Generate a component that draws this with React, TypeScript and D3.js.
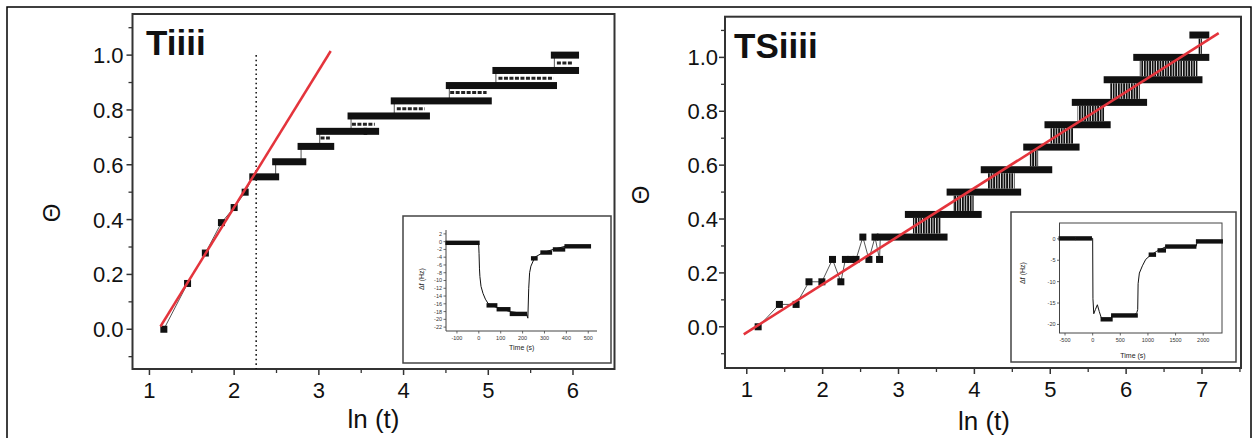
import React from "react";
import * as d3 from "d3";

const FONT = "'Liberation Sans', Arial, Helvetica, sans-serif";
const INK = "#111";
const FIT = "#e4343c";

// ---------- Panel "Tiiii" : coverage vs ln(t) ----------
const tiEarlyX = [1.17, 1.45, 1.66, 1.85, 2.0, 2.13];
const tiEarlyY = [0.0, 0.167, 0.278, 0.389, 0.444, 0.5];
const tiStepLevel = [0.556, 0.611, 0.667, 0.722, 0.722, 0.778, 0.833, 0.889, 0.944, 1.0];
const tiStepStart = [2.22, 2.49, 2.79, 3.01, 3.57, 3.38, 3.89, 4.54, 5.09, 5.78];
const tiStepEnd = [2.49, 2.81, 3.14, 3.53, 3.67, 4.27, 5.0, 5.77, 6.03, 6.03];
const tiFlickerLevel = [0.698, 0.748, 0.804, 0.864, 0.916, 0.971];
const tiFlickerStart = [3.02, 3.39, 3.92, 4.55, 5.12, 5.81];
const tiFlickerEnd = [3.13, 3.66, 4.25, 4.98, 5.77, 6.0];
const tiFitX = [1.13, 3.14];
const tiFitY = [0.01, 1.015];
const tiCutoff = 2.26;

// ---------- Panel "TSiiii" ----------
const tsEarlyX = [1.15, 1.43, 1.65, 1.82, 1.99, 2.13, 2.24, 2.3, 2.37, 2.44, 2.53, 2.61, 2.69, 2.75];
const tsEarlyY = [0.0, 0.083, 0.083, 0.167, 0.167, 0.25, 0.167, 0.25, 0.25, 0.25, 0.333, 0.25, 0.333, 0.25];
const tsStepLevel = [0.333, 0.417, 0.5, 0.583, 0.667, 0.75, 0.833, 0.917, 1.0, 1.083];
const tsStepStart = [2.76, 3.13, 3.68, 4.13, 4.69, 4.97, 5.33, 5.75, 6.14, 6.88];
const tsStepEnd = [3.6, 4.05, 4.57, 4.98, 5.34, 5.75, 6.23, 6.96, 7.05, 7.05];
// band i: points flickering between level i and level i+1
const tsFlickerStart = [3.19, 3.72, 4.18, 4.73, 5.0, 5.36, 5.79, 6.18, 6.95];
const tsFlickerEnd = [3.56, 3.99, 4.53, 4.84, 5.3, 5.71, 6.18, 6.94, 7.0];
const tsFitX = [0.96, 7.22];
const tsFitY = [-0.028, 1.09];

// ---------- main axes ticks ----------
const yMajor = [0, 0.2, 0.4, 0.6, 0.8, 1.0];
const yMajorLabels = ["0.0", "0.2", "0.4", "0.6", "0.8", "1.0"];
const yMinor = [-0.1, 0.1, 0.3, 0.5, 0.7, 0.9, 1.1];
const tiXMajor = [1, 2, 3, 4, 5, 6];
const tiXMinor = [1.5, 2.5, 3.5, 4.5, 5.5];
const tsXMajor = [1, 2, 3, 4, 5, 6, 7];
const tsXMinor = [1.5, 2.5, 3.5, 4.5, 5.5, 6.5, 7.5];

// ---------- inset: frequency shift vs time (Tiiii) ----------
const tiInsetT = [-150, -1, 1, 3, 5, 10, 19, 30, 42, 60, 96, 142, 218, 224, 228, 232, 238, 256, 294, 340, 394, 510];
const tiInsetF = [-0.3, -0.3, -3, -7, -9, -11.5, -13.3, -14.8, -15.9, -16.5, -17.2, -18, -18.6, -19.7, -12, -8, -6.3, -4, -2.8, -2, -1.2, -1.1];
const tiInsetBarT0 = [-146, 42, 88, 148, 245, 288, 345, 398];
const tiInsetBarT1 = [-3, 78, 138, 214, 262, 328, 388, 506];
const tiInsetBarF = [-0.3, -16.4, -17.4, -18.6, -4.3, -2.8, -2.0, -1.2];
const tiInsetXTicks = [-100, 0, 100, 200, 300, 400, 500];
const tiInsetYTicks = [2, 0, -2, -4, -6, -8, -10, -12, -14, -16, -18, -20, -22];

// ---------- inset: frequency shift vs time (TSiiii) ----------
const tsInsetT = [-600, 0, 5, 20, 50, 85, 120, 165, 340, 345, 760, 800, 815, 822, 845, 900, 960, 1040, 1160, 1330, 1870, 1895, 2330];
const tsInsetF = [0.1, 0.1, -14, -17.5, -16.5, -15.4, -17, -18.8, -18.8, -18, -17.8, -17.2, -16.5, -10.5, -8, -6.3, -4.8, -3.9, -2.9, -1.8, -1.8, -0.6, -0.6];
const tsInsetBarT0 = [-590, -280, 170, 360, 1040, 1200, 1338, 1895];
const tsInsetBarT1 = [-330, -40, 335, 790, 1120, 1300, 1850, 2330];
const tsInsetBarF = [0.1, 0.1, -18.8, -17.9, -3.7, -2.7, -1.8, -0.6];
const tsInsetXTicks = [-500, 0, 500, 1000, 1500, 2000];
const tsInsetYTicks = [0, -5, -10, -15, -20];

type Frame = { left: number; right: number; top: number; bottom: number };

function MainAxes(props: {
  f: Frame;
  x: d3.ScaleLinear<number, number>;
  y: d3.ScaleLinear<number, number>;
  xMajor: number[];
  xMinor: number[];
  labelGap: number;
}) {
  const { f, x, y, xMajor, xMinor, labelGap } = props;
  const inX = (v: number) => v >= x.domain()[0] && v <= x.domain()[1];
  return (
    <g>
      <rect x={f.left} y={f.top} width={f.right - f.left} height={f.bottom - f.top} fill="none" stroke="#333" strokeWidth={2} />
      {yMajor.map((v, i) => (
        <g key={"ym" + i}>
          <line x1={f.left - 6} x2={f.left} y1={y(v)} y2={y(v)} stroke="#333" strokeWidth={1.5} />
          <text x={f.left - labelGap} y={y(v)} dy="0.36em" textAnchor="end" fontSize={22} fontFamily={FONT} fill={INK}>
            {yMajorLabels[i]}
          </text>
        </g>
      ))}
      {yMinor.map((v, i) => (
        <line key={"yn" + i} x1={f.left - 4} x2={f.left} y1={y(v)} y2={y(v)} stroke="#333" strokeWidth={1.3} />
      ))}
      {xMajor.map((v, i) => (
        <g key={"xm" + i}>
          <line x1={x(v)} x2={x(v)} y1={f.bottom} y2={f.bottom + 6} stroke="#333" strokeWidth={1.5} />
          <text x={x(v)} y={f.bottom + 29} textAnchor="middle" fontSize={22} fontFamily={FONT} fill={INK}>
            {String(v)}
          </text>
        </g>
      ))}
      {xMinor.filter(inX).map((v, i) => (
        <line key={"xn" + i} x1={x(v)} x2={x(v)} y1={f.bottom} y2={f.bottom + 4} stroke="#333" strokeWidth={1.3} />
      ))}
    </g>
  );
}

function Inset(props: {
  box: Frame;
  inner: Frame;
  xDomain: [number, number];
  yDomain: [number, number];
  closed: boolean;
  t: number[];
  f: number[];
  barT0: number[];
  barT1: number[];
  barF: number[];
  xTicks: number[];
  yTicks: number[];
  timeLabel: [number, number];
  dfLabel: [number, number];
}) {
  const { box, inner, closed } = props;
  const x = d3.scaleLinear().domain(props.xDomain).range([inner.left, inner.right]);
  const y = d3.scaleLinear().domain(props.yDomain).range([inner.bottom, inner.top]);
  const line = d3.line<number>().x((_, i) => x(props.t[i])).y((v) => y(v));
  return (
    <g>
      <rect x={box.left} y={box.top} width={box.right - box.left} height={box.bottom - box.top} fill="#fff" stroke="#444" strokeWidth={1.5} />
      {closed ? (
        <rect x={inner.left} y={inner.top} width={inner.right - inner.left} height={inner.bottom - inner.top} fill="none" stroke="#444" strokeWidth={1} />
      ) : (
        <path d={`M${inner.left},${inner.top}V${inner.bottom}H${inner.right}`} fill="none" stroke="#444" strokeWidth={1} />
      )}
      <path d={line(props.f) || ""} fill="none" stroke={INK} strokeWidth={1} />
      {props.barF.map((v, i) => (
        <rect key={i} x={x(props.barT0[i]) - 1.5} y={y(v) - 2.2} width={x(props.barT1[i]) - x(props.barT0[i]) + 3} height={4.4} fill={INK} />
      ))}
      {props.yTicks.map((v, i) => (
        <g key={"y" + i}>
          <line x1={inner.left - 2.5} x2={inner.left} y1={y(v)} y2={y(v)} stroke="#444" strokeWidth={0.8} />
          <text x={inner.left - 4} y={y(v)} dy="0.35em" textAnchor="end" fontSize={5.5} fontFamily={FONT} fill="#333">
            {String(v)}
          </text>
        </g>
      ))}
      {props.xTicks.map((v, i) => (
        <g key={"x" + i}>
          <line x1={x(v)} x2={x(v)} y1={inner.bottom} y2={inner.bottom + 2.5} stroke="#444" strokeWidth={0.8} />
          <text x={x(v)} y={inner.bottom + 9} textAnchor="middle" fontSize={5.5} fontFamily={FONT} fill="#333">
            {String(v)}
          </text>
        </g>
      ))}
      <text x={props.timeLabel[0]} y={props.timeLabel[1]} dy="0.35em" textAnchor="middle" fontSize={7} fontFamily={FONT} fill="#222">
        Time (s)
      </text>
      <text
        transform={`translate(${props.dfLabel[0]},${props.dfLabel[1]}) rotate(-90)`}
        dy="0.35em"
        textAnchor="middle"
        fontSize={7}
        fontFamily={FONT}
        fill="#222"
      >
        Δf (Hz)
      </text>
    </g>
  );
}

export default function App() {
  const A: Frame = { left: 132.5, right: 614.5, top: 14, bottom: 369 };
  const ax = d3.scaleLinear().domain([0.8, 6.49]).range([A.left, A.right]);
  const ay = d3.scaleLinear().domain([-0.145, 1.15]).range([A.bottom, A.top]);

  const B: Frame = { left: 725, right: 1241, top: 16.7, bottom: 368 };
  const bx = d3.scaleLinear().domain([0.713, 7.514]).range([B.left, B.right]);
  const by = d3.scaleLinear().domain([-0.153, 1.151]).range([B.bottom, B.top]);

  const S = 7; // marker size
  const h = S / 2;

  // thin connector through the early points into the first plateau
  const tiConnector = d3
    .line<[number, number]>()
    .x((d) => ax(d[0]))
    .y((d) => ay(d[1]))(
    tiEarlyX.map((v, i) => [v, tiEarlyY[i]] as [number, number]).concat([[tiStepStart[0], tiStepLevel[0]]])
  );
  const tsConnector = d3
    .line<[number, number]>()
    .x((d) => bx(d[0]))
    .y((d) => by(d[1]))(
    tsEarlyX.map((v, i) => [v, tsEarlyY[i]] as [number, number]).concat([[tsStepStart[0], tsStepLevel[0]]])
  );

  return (
    <svg width={1257} height={438} style={{ position: "absolute", left: 0, top: 0, background: "#fff" }}>
      <defs>
        <pattern id="flicker" width={2.6} height={10} patternUnits="userSpaceOnUse">
          <rect x={0} y={0} width={1.8} height={10} fill={INK} />
        </pattern>
        <clipPath id="clipA">
          <rect x={A.left} y={A.top} width={A.right - A.left} height={A.bottom - A.top} />
        </clipPath>
        <clipPath id="clipB">
          <rect x={B.left} y={B.top} width={B.right - B.left} height={B.bottom - B.top} />
        </clipPath>
      </defs>
      <rect x={0} y={0} width={1257} height={438} fill="#fff" />
      <rect x={7} y={7} width={1244} height={445} fill="none" stroke="#000" strokeWidth={1.5} />

      {/* ---------------- Tiiii ---------------- */}
      <MainAxes f={A} x={ax} y={ay} xMajor={tiXMajor} xMinor={tiXMinor} labelGap={9} />
      <g clipPath="url(#clipA)">
        <line x1={ax(tiCutoff)} x2={ax(tiCutoff)} y1={ay(1.0)} y2={A.bottom} stroke={INK} strokeWidth={1.5} strokeDasharray="1.6 3" />
        <path d={tiConnector || ""} fill="none" stroke="#555" strokeWidth={1} />
        {tiStepLevel.map((v, i) =>
          i === 0 ? null : (
            <line key={"c" + i} x1={ax(tiStepStart[i])} x2={ax(tiStepStart[i])} y1={ay(tiStepLevel[i - 1])} y2={ay(v)} stroke="#555" strokeWidth={1} />
          )
        )}
        {tiEarlyX.map((v, i) => (
          <rect key={"e" + i} x={ax(v) - h} y={ay(tiEarlyY[i]) - h} width={S} height={S} fill={INK} />
        ))}
        {tiStepLevel.map((v, i) => (
          <rect key={"s" + i} x={ax(tiStepStart[i]) - h} y={ay(v) - h} width={ax(tiStepEnd[i]) - ax(tiStepStart[i]) + S} height={S} fill={INK} />
        ))}
        {tiFlickerLevel.map((v, i) => (
          <line
            key={"f" + i}
            x1={ax(tiFlickerStart[i])}
            x2={ax(tiFlickerEnd[i])}
            y1={ay(v)}
            y2={ay(v)}
            stroke="#222"
            strokeWidth={3}
            strokeDasharray="4 1.5"
          />
        ))}
        <line x1={ax(tiFitX[0])} y1={ay(tiFitY[0])} x2={ax(tiFitX[1])} y2={ay(tiFitY[1])} stroke={FIT} strokeWidth={2.5} />
      </g>
      <text x={146} y={55} fontSize={35} fontWeight="bold" fontFamily={FONT} fill={INK}>
        Tiiii
      </text>
      <text x={373.5} y={428} textAnchor="middle" fontSize={26} fontFamily={FONT} fill={INK}>
        ln (t)
      </text>
      <text transform="translate(51,213) rotate(-90)" dy="0.36em" textAnchor="middle" fontSize={24} fontFamily={FONT} fill={INK}>
        Θ
      </text>
      <Inset
        box={{ left: 403, right: 611, top: 216, bottom: 363 }}
        inner={{ left: 446, right: 597, top: 230, bottom: 331 }}
        xDomain={[-150, 540]}
        yDomain={[-23, 3]}
        closed={false}
        t={tiInsetT}
        f={tiInsetF}
        barT0={tiInsetBarT0}
        barT1={tiInsetBarT1}
        barF={tiInsetBarF}
        xTicks={tiInsetXTicks}
        yTicks={tiInsetYTicks}
        timeLabel={[521.7, 348]}
        dfLabel={[422, 279]}
      />

      {/* ---------------- TSiiii ---------------- */}
      <MainAxes f={B} x={bx} y={by} xMajor={tsXMajor} xMinor={tsXMinor} labelGap={7} />
      <g clipPath="url(#clipB)">
        {tsFlickerStart.map((v, i) => (
          <rect
            key={"h" + i}
            x={bx(v)}
            y={by(tsStepLevel[i + 1]) + h}
            width={bx(tsFlickerEnd[i]) - bx(v)}
            height={Math.max(0, by(tsStepLevel[i]) - by(tsStepLevel[i + 1]) - S)}
            fill="url(#flicker)"
          />
        ))}
        <path d={tsConnector || ""} fill="none" stroke="#555" strokeWidth={1} />
        {tsEarlyX.map((v, i) => (
          <rect key={"e" + i} x={bx(v) - h} y={by(tsEarlyY[i]) - h} width={S} height={S} fill={INK} />
        ))}
        {tsStepLevel.map((v, i) => (
          <rect key={"s" + i} x={bx(tsStepStart[i]) - h} y={by(v) - h} width={bx(tsStepEnd[i]) - bx(tsStepStart[i]) + S} height={S} fill={INK} />
        ))}
        <line x1={bx(tsFitX[0])} y1={by(tsFitY[0])} x2={bx(tsFitX[1])} y2={by(tsFitY[1])} stroke={FIT} strokeWidth={2.6} />
      </g>
      <text x={734} y={58} fontSize={35} fontWeight="bold" fontFamily={FONT} fill={INK}>
        TSiiii
      </text>
      <text x={984} y={430} textAnchor="middle" fontSize={26} fontFamily={FONT} fill={INK}>
        ln (t)
      </text>
      <text transform="translate(640,195) rotate(-90)" dy="0.36em" textAnchor="middle" fontSize={24} fontFamily={FONT} fill={INK}>
        Θ
      </text>
      <Inset
        box={{ left: 1011, right: 1236, top: 212, bottom: 362 }}
        inner={{ left: 1059.5, right: 1222, top: 223, bottom: 333 }}
        xDomain={[-600, 2340]}
        yDomain={[-22, 3.7]}
        closed={true}
        t={tsInsetT}
        f={tsInsetF}
        barT0={tsInsetBarT0}
        barT1={tsInsetBarT1}
        barF={tsInsetBarF}
        xTicks={tsInsetXTicks}
        yTicks={tsInsetYTicks}
        timeLabel={[1133, 356]}
        dfLabel={[1023, 273]}
      />
    </svg>
  );
}
